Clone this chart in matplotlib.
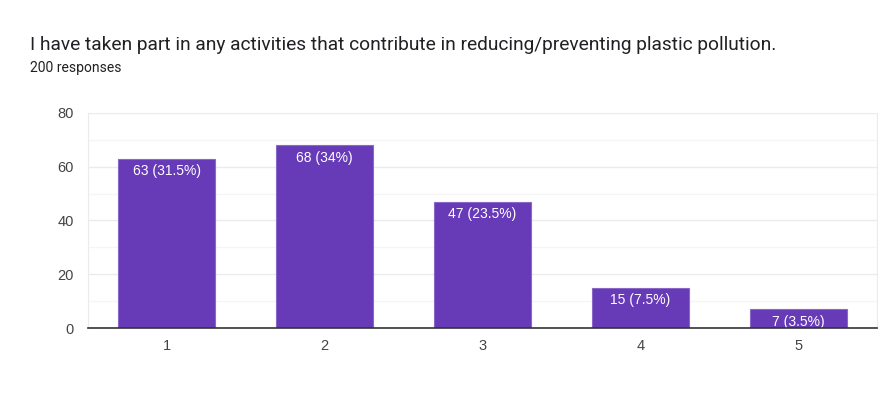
import matplotlib
matplotlib.use("Agg")
import matplotlib.pyplot as plt

categories = ["1", "2", "3", "4", "5"]
counts = [63, 68, 47, 15, 7]
labels = ["63 (31.5%)", "68 (34%)", "47 (23.5%)", "15 (7.5%)", "7 (3.5%)"]
title = "I have taken part in any activities that contribute in reducing/preventing plastic pollution."
subtitle = "200 responses"

plt.rcParams['font.family'] = ['Roboto', 'DejaVu Sans']

fig = plt.figure(figsize=(8.79, 4.18), dpi=100)
fig.patch.set_facecolor('white')
ax = fig.add_axes([0.1001, 0.2153, 0.8976, 0.5144])

x = list(range(len(categories)))
bars = ax.bar(x, counts, width=0.615, color='#673AB7', edgecolor='#8a68c8', linewidth=0.8, zorder=3)

for b, lab in zip(bars, labels):
    ax.annotate(lab, (b.get_x() + b.get_width() / 2, b.get_height()),
                xytext=(0, -4), textcoords='offset points',
                ha='center', va='top', color='white', fontsize=10,
                family=['Liberation Sans', 'DejaVu Sans'], zorder=4)

ax.set_xlim(-0.5, len(categories) - 0.5)
ax.set_ylim(0, 80)
ax.set_yticks([0, 20, 40, 60, 80])
ax.set_yticks([10, 30, 50, 70], minor=True)
ax.set_xticks(x)
ax.set_xticklabels(categories)

ax.grid(axis='y', which='major', color='#ebebeb', linewidth=1, zorder=0)
ax.grid(axis='y', which='minor', color='#f5f5f5', linewidth=1, zorder=0)

for side in ['top', 'right', 'left']:
    ax.spines[side].set_color('#ebebeb')
ax.spines['top'].set_visible(False)
ax.spines['bottom'].set_color('#333333')
ax.spines['bottom'].set_linewidth(1.2)
ax.spines['bottom'].set_zorder(5)

ax.tick_params(axis='both', which='both', length=0, labelsize=10.5, colors='#444444')
ax.tick_params(axis='y', pad=10)
ax.tick_params(axis='x', pad=8)
for t in ax.get_xticklabels() + ax.get_yticklabels():
    t.set_family(['Liberation Sans', 'DejaVu Sans'])

fig.text(30 / 879, 1 - 45 / 418, title, fontsize=13.8, color='#202124', va='center', ha='left')
fig.text(30 / 879, 1 - 68 / 418, subtitle, fontsize=10, color='#202124', va='center', ha='left')

fig.savefig("out.png", dpi=100)
